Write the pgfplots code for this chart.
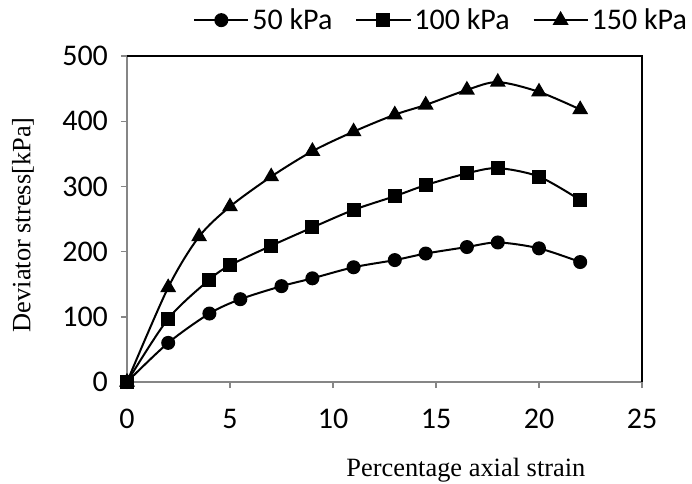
\documentclass[border=0pt]{standalone}
\usepackage{fontspec}
\setmainfont{Carlito}
\newfontfamily\timesf{Liberation Serif}
\usepackage{pgfplots}
\pgfplotsset{compat=1.18}
\definecolor{axgray}{RGB}{134,134,134}
\begin{document}
\begin{tikzpicture}
\begin{axis}[
  name=ax,
  scale only axis, width=257.5pt, height=163pt,
  xmin=0, xmax=25, ymin=0, ymax=500,
  xtick={0,5,...,25}, ytick={0,100,...,500},
  axis x line=bottom, axis y line=left,
  axis line style={-, draw=axgray, line width=0.7pt},
  tick style={draw=axgray, line width=0.7pt},
  tick align=outside, major tick length=3pt,
  /pgf/number format/assume math mode=true,
  tick label style={font=\fontsize{15}{18}\selectfont},
  yticklabel style={xshift=-3pt},
  xticklabel style={yshift=-7pt},
  xlabel={Percentage axial strain},
  ylabel={Deviator stress[kPa]},
  xlabel style={at={(axis description cs:0.658,0)}, anchor=north, inner sep=0pt, yshift=-38pt, font=\timesf\fontsize{13.2}{15}\selectfont},
  ylabel style={at={(axis description cs:0,0.482)}, anchor=center, inner sep=0pt, yshift=52pt, font=\timesf\fontsize{13.2}{15}\selectfont},
  every axis plot/.append style={black, line width=1pt, smooth, tension=0.5, mark options={solid, fill=black}},
  legend style={draw=none, fill=none, at={(axis description cs:1.093,1.11)}, anchor=east,
    legend columns=-1, font=\fontsize{15}{18}\selectfont, inner sep=0pt, outer sep=0pt,
    nodes={inner sep=1.5pt},
    /tikz/every even column/.append style={column sep=10pt}},
  legend image code/.code={\draw[mark repeat=2, mark phase=2] plot coordinates {(0pt,0pt) (13.5pt,0pt) (27pt,0pt)};},
  clip=false,
]
\addplot[mark=*, mark size=3pt] coordinates {
  (0,0) (2,60) (4,105) (5.5,127) (7.5,147) (9,159) (11,176) (13,187) (14.5,197) (16.5,207) (18,214) (20,205) (22,184)
};
\addlegendentry{50 kPa}
\addplot[mark=square*, mark size=3pt] coordinates {
  (0,0) (2,97) (4,157) (5,179) (7,209) (9,237) (11,264) (13,285) (14.5,302) (16.5,320) (18,328) (20,315) (22,279)
};
\addlegendentry{100 kPa}
\addplot[mark=triangle*, mark size=3.6pt] coordinates {
  (0,0) (2,145) (3.5,223) (5,269) (7,315) (9,354) (11,384) (13,410) (14.5,425) (16.5,448) (18,460) (20,445) (22,418)
};
\addlegendentry{150 kPa}
\addplot[only marks, mark=square*, mark size=3pt, forget plot] coordinates {(0,0)};
\end{axis}
\draw[black, line width=0.6pt] (ax.north west) -- (ax.north east) -- (ax.south east);
\path ([shift={(-63.5pt,-50.5pt)}]ax.south west) rectangle ++(346pt,241.5pt);
\end{tikzpicture}
\end{document}
